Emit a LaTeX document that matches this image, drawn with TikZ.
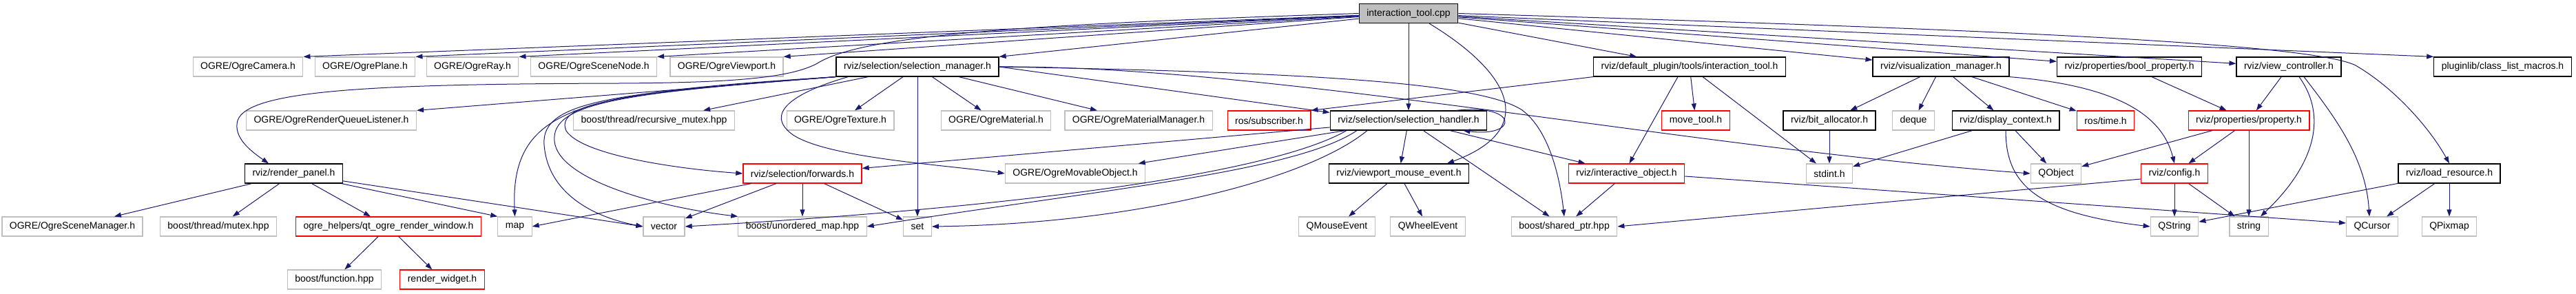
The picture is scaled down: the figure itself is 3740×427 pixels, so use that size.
\documentclass[tikz,border=0pt]{standalone}
\usepackage{fontspec}
\setmainfont{Liberation Sans}
\usepackage{xcolor}
\usetikzlibrary{arrows.meta}
\definecolor{edgeblue}{HTML}{191970}
\definecolor{boxgray}{HTML}{BFBFBF}

\begin{document}
\begin{tikzpicture}[x=1pt,y=-1pt,
        file/.style={draw=black,fill=white,line width=1.2pt,minimum height=28pt,inner xsep=11pt,inner ysep=0pt,font=\fontsize{14pt}{16pt}\selectfont},
        sysfile/.style={file,draw=boxgray},
        cutfile/.style={file,draw=red},
        rootfile/.style={file,fill=boxgray},
        inc/.style={draw=edgeblue,line width=1pt,-{Triangle[length=10pt,width=7pt]}}]
        \useasboundingbox (0,0) rectangle (3740,427);

        \node[rootfile] (cpp) at (2045,19.5) {interaction\_tool.cpp};

        \node[sysfile] (ogrecam) at (360,97) {OGRE/OgreCamera.h};
        \node[sysfile] (ogreplane) at (530,97) {OGRE/OgrePlane.h};
        \node[sysfile] (ogreray) at (686,97) {OGRE/OgreRay.h};
        \node[sysfile] (ogrenode) at (862,97) {OGRE/OgreSceneNode.h};
        \node[sysfile] (ogreview) at (1055,97) {OGRE/OgreViewport.h};
        \node[file] (selmgr) at (1332,97) {rviz/selection/selection\_manager.h};
        \node[file] (itool) at (2453,97) {rviz/default\_plugin/tools/interaction\_tool.h};
        \node[file] (vizmgr) at (2818,97) {rviz/visualization\_manager.h};
        \node[file] (boolprop) at (3091.5,97) {rviz/properties/bool\_property.h};
        \node[file] (viewctl) at (3323,97) {rviz/view\_controller.h};
        \node[file] (classlist) at (3633.5,97) {pluginlib/class\_list\_macros.h};

        \node[sysfile] (rqlisten) at (481,175) {OGRE/OgreRenderQueueListener.h};
        \node[sysfile] (recmutex) at (949.5,175) {boost/thread/recursive\_mutex.hpp};
        \node[sysfile] (ogretex) at (1220,175) {OGRE/OgreTexture.h};
        \node[sysfile] (ogremat) at (1446,175) {OGRE/OgreMaterial.h};
        \node[sysfile] (ogrematmgr) at (1653,175) {OGRE/OgreMaterialManager.h};
        \node[cutfile] (rossub) at (1842.5,175) {ros/subscriber.h};
        \node[file] (selhandler) at (2045,175) {rviz/selection/selection\_handler.h};
        \node[cutfile] (movetool) at (2462,175) {move\_tool.h};
        \node[file] (bitalloc) at (2656,175) {rviz/bit\_allocator.h};
        \node[sysfile] (deque) at (2778,175) {deque};
        \node[file] (dispctx) at (2912,175) {rviz/display\_context.h};
        \node[cutfile] (rostime) at (3057,175) {ros/time.h};
        \node[cutfile] (property) at (3265,175) {rviz/properties/property.h};

        \node[file] (rpanel) at (426.5,252) {rviz/render\_panel.h};
        \node[cutfile] (forwards) at (1165,252) {rviz/selection/forwards.h};
        \node[sysfile] (movable) at (1561,252) {OGRE/OgreMovableObject.h};
        \node[file] (vpevent) at (2031,252) {rviz/viewport\_mouse\_event.h};
        \node[cutfile] (interobj) at (2361.5,252) {rviz/interactive\_object.h};
        \node[sysfile] (stdint) at (2656,252) {stdint.h};
        \node[sysfile] (qobject) at (2985,252) {QObject};
        \node[cutfile] (config) at (3157,252) {rviz/config.h};
        \node[file] (loadres) at (3556,252) {rviz/load\_resource.h};

        \node[sysfile] (scenemgr) at (105,329) {OGRE/OgreSceneManager.h};
        \node[sysfile] (mutex) at (317,329) {boost/thread/mutex.hpp};
        \node[cutfile] (qtwin) at (564,329) {ogre\_helpers/qt\_ogre\_render\_window.h};
        \node[sysfile] (map) at (747.5,329) {map};
        \node[sysfile] (vector) at (964,329) {vector};
        \node[sysfile] (umap) at (1165,329) {boost/unordered\_map.hpp};
        \node[sysfile] (set) at (1332,329) {set};
        \node[sysfile] (qmouse) at (1941,329) {QMouseEvent};
        \node[sysfile] (qwheel) at (2073,329) {QWheelEvent};
        \node[sysfile] (sharedptr) at (2271,329) {boost/shared\_ptr.hpp};
        \node[sysfile] (qstring) at (3157,329) {QString};
        \node[sysfile] (string) at (3265,329) {string};
        \node[sysfile] (qcursor) at (3444,329) {QCursor};
        \node[sysfile] (qpixmap) at (3556,329) {QPixmap};

        \node[sysfile] (function) at (485.5,406) {boost/function.hpp};
        \node[cutfile] (rwidget) at (642,406) {render\_widget.h};

        \draw[inc] (cpp) -- (ogrecam.north east);
        \draw[inc] (cpp) -- (ogreplane.north east);
        \draw[inc] (cpp) -- (ogreray.north east);
        \draw[inc] (cpp) -- (ogrenode.north east);
        \draw[inc] (cpp) -- (ogreview.north east);
        \draw[inc] (cpp) -- (selmgr.north east);
        \draw[inc] (cpp.west) .. controls (1500,35) and (1260,50) .. (1190,90) .. controls (1150,115) and (1050,120) .. (900,121) .. controls (550,122) and (360,130) .. (345,175) .. controls (338,200) and (365,220) .. ([xshift=35pt]rpanel.north west);
        \draw[inc] (cpp) -- (selhandler);
        \draw[inc] ([xshift=30pt]cpp.south) .. controls (2200,110) and (2230,190) .. ([xshift=70pt]vpevent.north);
        \draw[inc] (cpp) -- (itool);
        \draw[inc] (cpp) -- (vizmgr);
        \draw[inc] (cpp) -- (boolprop);
        \draw[inc] (cpp) -- (viewctl);
        \draw[inc] (cpp) -- (classlist.north west);
        \draw[inc] (cpp.east) .. controls (2800,40) and (3350,60) .. (3420,95) .. controls (3480,130) and (3530,190) .. (loadres.north);

        \draw[inc] (selmgr.south west) -- (rqlisten.north east);
        \draw[inc] (selmgr) -- (recmutex);
        \draw[inc] (selmgr) -- (ogretex);
        \draw[inc] (selmgr) -- (ogremat);
        \draw[inc] (selmgr) -- (ogrematmgr);
        \draw[inc] (selmgr) -- (set);
        \draw[inc] (selmgr.east) -- ([yshift=-3pt]selhandler.north west);
        \draw[inc] (selmgr.east) .. controls (1850,95) and (2450,215) .. (qobject.west);
        \draw[inc] (selmgr.east) .. controls (1900,105) and (2150,120) .. (2210,160) .. controls (2250,190) and (2265,260) .. (sharedptr.north);
        \draw[inc] (selmgr.south west) .. controls (850,135) and (740,150) .. (map.north);
        \draw[inc] (selmgr.south west) .. controls (900,135) and (785,145) .. (790,210) .. controls (795,280) and (860,315) .. (vector.west);
        \draw[inc] (selmgr.south west) .. controls (900,135) and (800,150) .. (805,205) .. controls (810,260) and (950,300) .. (umap.north west);
        \draw[inc] (selmgr.south west) .. controls (900,135) and (805,150) .. (822,190) .. controls (845,225) and (980,245) .. (forwards.west);
        \draw[inc] ([xshift=18pt]selmgr.south west) .. controls (1150,135) and (1110,165) .. (1150,195) .. controls (1200,230) and (1380,240) .. (movable.west);

        \draw[inc] ([xshift=-45pt]selhandler.north east) .. controls (2205,150) and (2205,200) .. ([xshift=-35pt]selhandler.south east);
        \draw[inc] (selhandler) -- (vpevent);
        \draw[inc] (selhandler) -- (interobj);
        \draw[inc] (selhandler) -- (sharedptr);
        \draw[inc] (selhandler) -- (forwards);
        \draw[inc] (selhandler) -- (movable);
        \draw[inc] ([xshift=-60pt]selhandler.south) .. controls (1900,260) and (1650,325) .. (set.east);
        \draw[inc] ([xshift=-75pt]selhandler.south) .. controls (1880,250) and (1600,275) .. (umap.east);
        \draw[inc] ([xshift=-90pt]selhandler.south) .. controls (1850,250) and (1500,300) .. (vector.east);

        \draw[inc] (rpanel) -- (scenemgr);
        \draw[inc] (rpanel) -- (mutex);
        \draw[inc] (rpanel) -- (qtwin);
        \draw[inc] (rpanel) -- (map.north west);
        \draw[inc] (rpanel) -- (vector.west);
        \draw[inc] (qtwin) -- (function);
        \draw[inc] (qtwin) -- (rwidget);

        \draw[inc] (forwards) -- (map.east);
        \draw[inc] (forwards) -- (vector);
        \draw[inc] (forwards) -- (umap);
        \draw[inc] (forwards) -- (set);

        \draw[inc] (vpevent) -- (qmouse);
        \draw[inc] (vpevent) -- (qwheel);
        \draw[inc] (interobj) -- (sharedptr);
        \draw[inc] ([yshift=-4pt]interobj.east) -- ([yshift=5pt]qcursor.west);

        \draw[inc] (itool.south west) -- (rossub.north east);
        \draw[inc] (itool) -- (movetool);
        \draw[inc] ([xshift=-17pt]itool.south) -- ([xshift=4pt]interobj.north);
        \draw[inc] (itool) -- (stdint);

        \draw[inc] (vizmgr) -- (bitalloc);
        \draw[inc] (vizmgr) -- (deque);
        \draw[inc] (vizmgr) -- (dispctx);
        \draw[inc] (vizmgr) -- (rostime);
        \draw[inc] (vizmgr.south east) .. controls (3080,125) and (3140,170) .. (config.north);
        \draw[inc] (bitalloc) -- (stdint);
        \draw[inc] (dispctx) -- (stdint);
        \draw[inc] (dispctx) -- (qobject);
        \draw[inc] (dispctx.south) .. controls (2912,270) and (2960,310) .. (qstring.west);

        \draw[inc] (boolprop) -- (property);
        \draw[inc] (viewctl) -- (property);
        \draw[inc] ([xshift=15pt]viewctl.south) .. controls (3380,170) and (3360,240) .. ([xshift=17pt]string.north);
        \draw[inc] ([xshift=22pt]viewctl.south) .. controls (3390,170) and (3435,230) .. ([xshift=-4pt]qcursor.north);
        \draw[inc] (property) -- (qobject);
        \draw[inc] (property) -- (config);
        \draw[inc] (property) -- (string);

        \draw[inc] (config) -- (qstring);
        \draw[inc] (config) -- (string);
        \draw[inc] ([yshift=-8pt]config.west) -- (sharedptr.east);
        \draw[inc] (loadres) -- (qstring);
        \draw[inc] (loadres) -- (qcursor);
        \draw[inc] (loadres) -- (qpixmap);
\end{tikzpicture}
\end{document}
